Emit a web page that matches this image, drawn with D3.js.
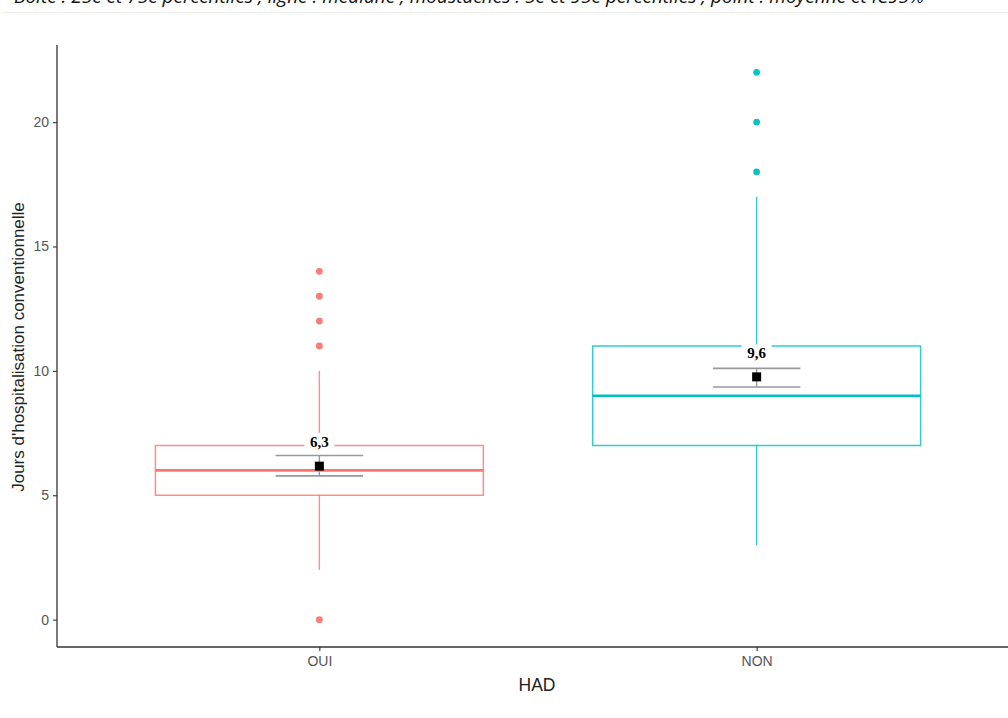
<!DOCTYPE html>
<html><head><meta charset="utf-8">
<script src="https://cdn.jsdelivr.net/npm/d3@7"></script>
<style>html,body{margin:0;padding:0;background:#fff;overflow:hidden}</style>
</head><body>
<script>
// ---- data ----
const categories = ["OUI", "NON"];
const colors = ["#F8766D", "#00BFC4"];
const q1 = [5, 7];
const medians = [6, 9];
const q3 = [7, 11];
const whiskerLow = [2, 3];
const whiskerHigh = [10, 17];
const outliers = [[14, 13, 12, 11, 0], [22, 20, 18]];
const means = [6.17, 9.76];
const ciLow = [5.78, 9.35];
const ciHigh = [6.6, 10.1];
const meanLabels = ["6,3", "9,6"];
const labelY = [7.15, 10.7];
const yTicks = [0, 5, 10, 15, 20];
const caption = "Boîte : 25e et 75e percentiles ; ligne : médiane ; moustaches : 5e et 95e percentiles ; point : moyenne et IC95%";

const W = 1008, H = 718;
const svg = d3.select("body").append("svg").attr("width", W).attr("height", H);

const y = d3.scaleLinear().domain([-1.1, 23.1]).range([647, 45]);
const x = d3.scaleLinear().domain([0.4, 2.6]).range([57, 1019]);
const pos = i => x(i + 1);
const unit = x(1) - x(0);

// caption (clipped at top as in the source)
svg.append("text").attr("x", 14).attr("y", 3)
  .attr("font-family", "Open Sans, sans-serif").attr("font-style", "italic")
  .attr("font-size", 19).attr("fill", "#111").text(caption);
svg.append("line").attr("x1", 3).attr("x2", W).attr("y1", 12.5).attr("y2", 12.5)
  .attr("stroke", "#eeeeee").attr("stroke-width", 1);

const g = svg.append("g");

categories.forEach((c, i) => {
  const cx = pos(i), col = colors[i];
  const hw = unit * 0.75 / 2;
  g.append("line").attr("x1", cx).attr("x2", cx).attr("y1", y(q3[i])).attr("y2", y(whiskerHigh[i]))
    .attr("stroke", col).attr("stroke-width", 1.4).attr("opacity", 0.8);
  g.append("line").attr("x1", cx).attr("x2", cx).attr("y1", y(q1[i])).attr("y2", y(whiskerLow[i]))
    .attr("stroke", col).attr("stroke-width", 1.4).attr("opacity", 0.8);
  g.append("rect").attr("x", cx - hw).attr("y", y(q3[i])).attr("width", 2 * hw)
    .attr("height", y(q1[i]) - y(q3[i])).attr("fill", "#fff")
    .attr("stroke", col).attr("stroke-width", 1.5).attr("opacity", 0.8);
  g.append("line").attr("x1", cx - hw).attr("x2", cx + hw).attr("y1", y(medians[i])).attr("y2", y(medians[i]))
    .attr("stroke", col).attr("stroke-width", 2.6);
  g.selectAll(null).data(outliers[i]).enter().append("circle")
    .attr("cx", cx).attr("cy", d => y(d)).attr("r", 3.4).attr("fill", col).attr("opacity", 0.95);
  const ew = unit * 0.1;
  g.append("line").attr("x1", cx).attr("x2", cx).attr("y1", y(ciLow[i])).attr("y2", y(ciHigh[i]))
    .attr("stroke", "#999").attr("stroke-width", 1.4);
  [ciLow[i], ciHigh[i]].forEach(v => {
    g.append("line").attr("x1", cx - ew).attr("x2", cx + ew).attr("y1", y(v)).attr("y2", y(v))
      .attr("stroke", "#999").attr("stroke-width", 1.6);
  });
  g.append("rect").attr("x", cx - 4.5).attr("y", y(means[i]) - 4.5).attr("width", 9).attr("height", 9).attr("fill", "#000");
  g.append("rect").attr("x", cx - 15).attr("y", y(labelY[i]) - 9).attr("width", 30).attr("height", 18).attr("fill", "#fff");
  g.append("text").attr("x", cx).attr("y", y(labelY[i]) + 5).attr("text-anchor", "middle")
    .attr("font-family", "Liberation Serif, serif").attr("font-weight", "bold").attr("font-size", 15)
    .attr("fill", "#000").text(meanLabels[i]);
});

// axes
const axisCol = "#333";
const yAxis = svg.append("g").attr("transform", "translate(57,0)")
  .call(d3.axisLeft(y).tickValues(yTicks).tickSize(4).tickPadding(4));
yAxis.select(".domain").attr("stroke", axisCol).attr("stroke-width", 1.3).attr("d", "M0,45V647");
yAxis.selectAll(".tick line").attr("stroke", axisCol).attr("stroke-width", 1.1);
yAxis.selectAll(".tick text").attr("fill", "#555").attr("font-size", 14)
  .attr("font-family", "Liberation Sans, Arial, sans-serif");

const xAxis = svg.append("g").attr("transform", "translate(0,647)")
  .call(d3.axisBottom(x).tickValues([1, 2]).tickFormat((d) => categories[d - 1]).tickSize(4).tickPadding(5));
xAxis.select(".domain").attr("stroke", axisCol).attr("stroke-width", 1.3).attr("d", "M57,0H1019");
xAxis.selectAll(".tick line").attr("stroke", axisCol).attr("stroke-width", 1.1);
xAxis.selectAll(".tick text").attr("fill", "#555").attr("font-size", 14)
  .attr("font-family", "Liberation Sans, Arial, sans-serif");

svg.append("text").attr("x", 537).attr("y", 691).attr("text-anchor", "middle")
  .attr("font-family", "Liberation Sans, Arial, sans-serif").attr("font-size", 17.5).attr("fill", "#222").text("HAD");
svg.append("text").attr("transform", "translate(24,347) rotate(-90)").attr("text-anchor", "middle")
  .attr("font-family", "Liberation Sans, Arial, sans-serif").attr("font-size", 17).attr("fill", "#222")
  .text("Jours d'hospitalisation conventionnelle");
</script>
</body></html>
